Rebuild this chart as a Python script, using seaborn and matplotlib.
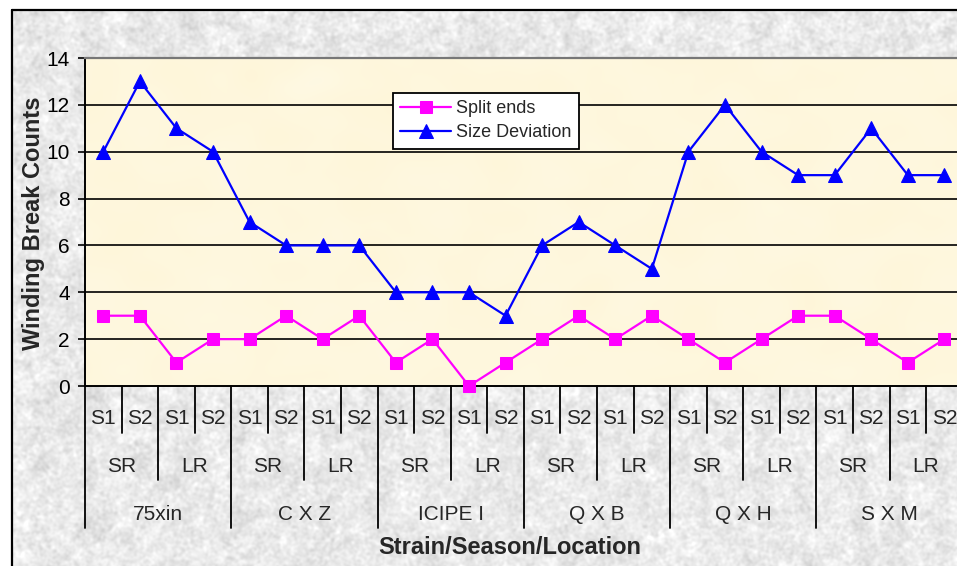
import numpy as np
import pandas as pd
import matplotlib
matplotlib.use("Agg")
import matplotlib.pyplot as plt
import seaborn as sns
from matplotlib.patches import Rectangle
from matplotlib.transforms import blended_transform_factory

# ---- data -------------------------------------------------------------
strains = ["75xin", "C X Z", "ICIPE I", "Q X B", "Q X H", "S X M"]
seasons = ["SR", "LR"]
sites = ["S1", "S2"]
split_ends = [3, 3, 1, 2, 2, 3, 2, 3, 1, 2, 0, 1, 2, 3, 2, 3, 2, 1, 2, 3, 3, 2, 1, 2]
size_deviation = [10, 13, 11, 10, 7, 6, 6, 6, 4, 4, 4, 3, 6, 7, 6, 5, 10, 12, 10, 9, 9, 11, 9, 9]
y_ticks = [0, 2, 4, 6, 8, 10, 12, 14]
series_names = ["Split ends", "Size Deviation"]

n = len(split_ends)
df = pd.DataFrame({
    "pos": list(range(n)) * 2,
    "count": split_ends + size_deviation,
    "series": [series_names[0]] * n + [series_names[1]] * n,
})

sns.set_style("white")
plt.rcParams["font.family"] = ["Liberation Sans", "DejaVu Sans"]

W, H = 957, 566
fig = plt.figure(figsize=(W / 100, H / 100), dpi=100)


def fy(px):
    """figure fraction for a pixel row measured from the top"""
    return (H - px) / H


# ---- granite-like chart background --------------------------------------
yy, xx = np.mgrid[0:H, 0:W].astype(float)


def hash2(a, b):
    return np.modf(np.abs(np.sin(a * 12.9898 + b * 78.233) * 43758.5453))[0]


def blur(img, s):
    ky = np.fft.fftfreq(img.shape[0])[:, None]
    kx = np.fft.fftfreq(img.shape[1])[None, :]
    g = np.exp(-2 * (np.pi * s) ** 2 * (kx ** 2 + ky ** 2))
    return np.real(np.fft.ifft2(np.fft.fft2(img) * g))


def norm(a):
    return (a - a.min()) / (a.max() - a.min())


tex = 0.55 * norm(blur(hash2(xx, yy), 1.3)) + 0.45 * norm(blur(hash2(xx + 101.0, yy + 57.0), 4.0))
tex = norm(tex)
grey = np.clip(0.80 + 0.24 * tex, 0, 1)
bg_rgb = np.dstack([grey, grey, grey])

bg = fig.add_axes([0, 0, 1, 1], zorder=-10)
bg.imshow(bg_rgb, extent=(0, W, H, 0), aspect="auto", interpolation="bilinear")
bg.add_patch(Rectangle((0, 0), W, 9, color="white", lw=0))
bg.add_patch(Rectangle((0, 0), 11, H, color="white", lw=0))
bg.plot([11.5, 11.5], [9.5, H + 5], color="black", lw=1.6)
bg.plot([11.5, W + 5], [9.5, 9.5], color="black", lw=1.6)
bg.set_xlim(0, W)
bg.set_ylim(H, 0)
bg.axis("off")

# ---- plot area ------------------------------------------------------------
left_px, top_px, bottom_px = 85, 58, 386
cat_w = 36.57
ax = fig.add_axes([left_px / W, fy(bottom_px), n * cat_w / W, (bottom_px - top_px) / H])

mott = norm(blur(hash2(xx[:200, :400] + 7.0, yy[:200, :400] + 3.0), 6.0)) - 0.5
cream = np.dstack([
    np.clip(0.998 - 0.004 * mott, 0, 1),
    np.clip(0.970 + 0.012 * mott, 0, 1),
    np.clip(0.870 + 0.035 * mott, 0, 1),
])
ax.imshow(cream, extent=(-0.5, n - 0.5, 0, 14), aspect="auto", origin="upper",
          interpolation="bilinear", zorder=0)

for v in y_ticks[1:-1]:
    ax.axhline(v, color="black", lw=1.2, zorder=1)

n_before = len(ax.lines)
sns.lineplot(
    data=df, x="pos", y="count", hue="series", style="series",
    hue_order=series_names, style_order=series_names,
    palette={"Split ends": "#FF00FF", "Size Deviation": "#0000FF"},
    markers={"Split ends": "s", "Size Deviation": "^"},
    dashes=False, legend=False, lw=1.6, markersize=9, ax=ax, zorder=3,
)
data_lines = ax.lines[n_before:]
for ln in data_lines:
    ln.set_markeredgecolor(ln.get_color())
    ln.set_markerfacecolor(ln.get_color())
    ln.set_clip_on(False)
data_lines[1].set_markersize(10)

ax.set_xlim(-0.5, n - 0.5)
ax.set_ylim(0, 14)
ax.set_yticks(y_ticks)
ax.set_xticks([])
ax.set_xlabel("")
ax.set_ylabel("")
ax.tick_params(axis="y", left=True, length=5, width=1.2, pad=6, labelsize=15,
               colors="black", direction="out")
for side in ("left", "bottom"):
    ax.spines[side].set_color("black")
    ax.spines[side].set_linewidth(1.4)
ax.spines["top"].set_color("#777777")
ax.spines["top"].set_linewidth(1.6)
ax.spines["right"].set_visible(False)

# ---- three-level category axis -------------------------------------------
trans = blended_transform_factory(ax.transData, fig.transFigure)
for b in range(n + 1):
    x = b - 0.5
    if b % 4 == 0:
        end = 528
    elif b % 2 == 0:
        end = 480
    else:
        end = 433
    ax.plot([x, x], [fy(bottom_px), fy(end)], transform=trans, clip_on=False,
            color="black", lw=1.3)

for i in range(n):
    ax.text(i, fy(418), sites[i % 2], transform=trans, ha="center", va="center",
            fontsize=15, clip_on=False)
for j in range(n // 2):
    ax.text(2 * j + 0.5, fy(467), seasons[j % 2], transform=trans, ha="center",
            va="center", fontsize=15, clip_on=False)
for k, s in enumerate(strains):
    ax.text(4 * k + 1.5, fy(514), s, transform=trans, ha="center", va="center",
            fontsize=15, clip_on=False)

fig.text(510 / W, fy(547), "Strain/Season/Location", ha="center", va="center",
         fontsize=17, fontweight="bold")
fig.text(34 / W, fy(223), "Winding Break Counts", ha="center", va="center",
         rotation=90, fontsize=17, fontweight="bold")

# ---- legend ------------------------------------------------------------------
leg = ax.legend(
    data_lines, series_names, loc="upper left",
    bbox_to_anchor=(393 / W, fy(93)), bbox_transform=fig.transFigure,
    borderaxespad=0, fontsize=13, frameon=True, fancybox=False,
    framealpha=1, edgecolor="black", handlelength=2.8, handletextpad=0.3,
    labelspacing=0.4, borderpad=0.4,
)
leg.get_frame().set_linewidth(1.3)
leg.set_zorder(5)

fig.savefig("out.png", dpi=100)
